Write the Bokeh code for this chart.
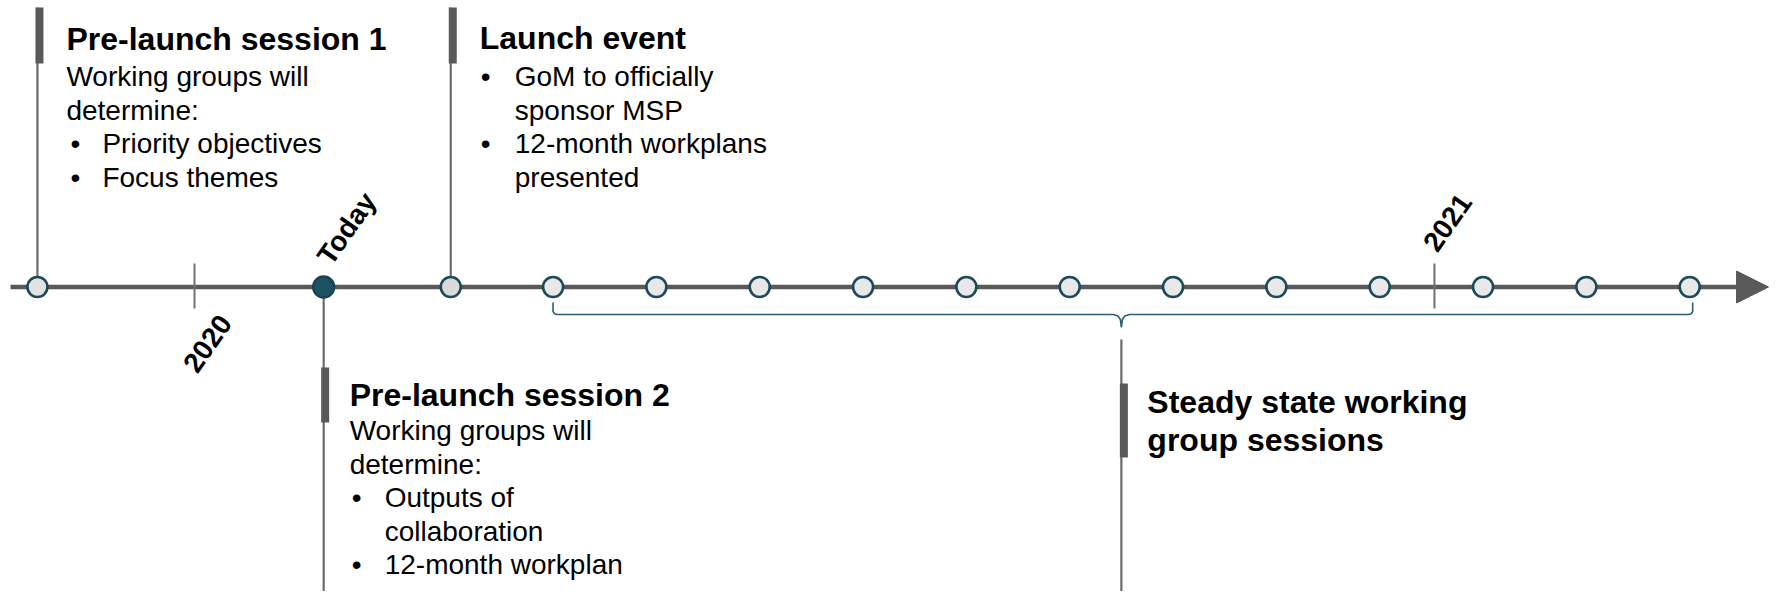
from bokeh.plotting import figure
from bokeh.models import Range1d
from bokeh.embed import file_html
from bokeh.resources import INLINE
from bokeh.core.properties import value

# ---------------- data (months since 1 Jan 2020) ----------------
year_ticks = [0, 12]
year_labels = ["2020", "2021"]
session1_m = -1.52
today_m = 1.25
launch_m = 2.48
steady_m = [3.47, 4.47, 5.47, 6.47, 7.47, 8.47, 9.47, 10.47, 11.47, 12.47, 13.47, 14.47]
today_label = "Today"

session1_title = "Pre-launch session 1"
session1_plain = ["Working groups will", "determine:"]
session1_bullets = [["Priority objectives"], ["Focus themes"]]

launch_title = "Launch event"
launch_plain = []
launch_bullets = [["GoM to officially", "sponsor MSP"], ["12-month workplans", "presented"]]

session2_title = "Pre-launch session 2"
session2_plain = ["Working groups will", "determine:"]
session2_bullets = [["Outputs of", "collaboration"], ["12-month workplan"]]

steady_title = ["Steady state working", "group sessions"]

# ---------------- layout ----------------
W, H = 1769, 591
X0 = 194.0          # figure px of month 0
PPM = 103.33        # px per month
x_start = -X0 / PPM
x_end = (W - X0) / PPM


def px(d):
    return d / PPM


AXIS_Y = 286.5
FONT = value("Liberation Sans")
LINE_C = "#6b6b6b"
BAR_C = "#595959"
TEAL = "#1b4a59"
MID = 0.35  # baseline -> middle of caps, in em

p = figure(width=W, height=H, x_range=Range1d(x_start, x_end),
           y_range=Range1d(H, 0), output_backend="svg",
           toolbar_location=None, min_border=0)
p.axis.visible = False
p.grid.visible = False
p.outline_line_color = None
p.background_fill_color = "white"
p.border_fill_color = "white"

# bracket under steady state sessions
L = steady_m[0]
R = steady_m[-1] + px(3)
M = (steady_m[0] + steady_m[-1]) / 2
bx = [L, L, L + px(1.5), L + px(4), M - px(8), M - px(3.5), M - px(1), M,
      M + px(1), M + px(3.5), M + px(8), R - px(4), R - px(1.5), R, R]
by = [302, 311, 313.3, 314, 314, 315.5, 319, 327, 319, 315.5, 314, 314, 313.3, 311, 302]
p.line(bx, by, line_color="#2a5f6f", line_width=1.6)

# vertical connector lines
p.segment(x0=[session1_m, launch_m], y0=[7, 7], x1=[session1_m, launch_m],
          y1=[AXIS_Y, AXIS_Y], line_color=LINE_C, line_width=2.2)
p.segment(x0=[today_m], y0=[AXIS_Y], x1=[today_m], y1=[600],
          line_color=LINE_C, line_width=2.2)
p.segment(x0=[M], y0=[339], x1=[M], y1=[600], line_color=LINE_C, line_width=2.2)

# accent bars
bar_x = [session1_m + px(2), launch_m + px(2), today_m + px(1.5), M + px(2.5)]
bar_y0 = [7, 7, 367, 383]
bar_y1 = [63, 63, 422, 457]
p.segment(x0=bar_x, y0=bar_y0, x1=bar_x, y1=bar_y1, line_color=BAR_C,
          line_width=8, line_cap="butt")

# main axis + arrow
arrow_base = px(1736 - X0)
arrow_tip = px(1768 - X0)
p.segment(x0=[px(10 - X0)], y0=[AXIS_Y], x1=[arrow_base], y1=[AXIS_Y],
          line_color="#5a5a5a", line_width=4.5)
p.patch([arrow_base, arrow_base, arrow_tip], [270.5, 302.5, AXIS_Y],
        fill_color="#595959", line_color="#595959", line_width=1)

# year ticks
p.segment(x0=year_ticks, y0=[263, 263], x1=year_ticks, y1=[308, 308],
          line_color="#707070", line_width=2)

# circles
p.scatter(x=steady_m, y=[AXIS_Y] * len(steady_m), size=20, marker="circle",
          fill_color="#e8e8e8", line_color=TEAL, line_width=2.6)
p.scatter(x=[session1_m], y=[AXIS_Y], size=20, marker="circle",
          fill_color="#e2e2e2", line_color=TEAL, line_width=2.6)
p.scatter(x=[launch_m], y=[AXIS_Y], size=20, marker="circle",
          fill_color="#d9d9d9", line_color=TEAL, line_width=2.6)
p.scatter(x=[today_m], y=[AXIS_Y], size=21, marker="circle",
          fill_color="#1c5262", line_color="#174553", line_width=2.4)

# rotated labels
ANG = 55
p.text(x=year_ticks, y=[343, 222], text=year_labels, x_offset=13,
       angle=ANG, angle_units="deg", text_align="center", text_baseline="middle",
       text_font=FONT, text_font_style="bold", text_font_size="28px",
       text_color="black")
p.text(x=[today_m], y=[228], text=[today_label], x_offset=23,
       angle=ANG, angle_units="deg", text_align="center", text_baseline="middle",
       text_font=FONT, text_font_style="bold", text_font_size="28px",
       text_color="black")


def block(xm, title_lines, plain, bullets, title_base, body_base,
          title_dx, bullet_dx, btext_dx, title_step=38, step=33.5):
    ty = [title_base + i * title_step - MID * 32 for i in range(len(title_lines))]
    p.text(x=[xm] * len(title_lines), y=ty, text=title_lines, x_offset=title_dx,
           text_align="left", text_baseline="middle", text_font=FONT,
           text_font_style="bold", text_font_size="32px", text_color="black")
    yy = body_base - MID * 28
    xs, ys, ts = [], [], []
    for t in plain:
        xs.append(title_dx); ys.append(yy); ts.append(t); yy += step
    bys = []
    for b in bullets:
        bys.append(yy)
        for t in b:
            xs.append(btext_dx); ys.append(yy); ts.append(t); yy += step
    if ts:
        p.text(x=[xm] * len(ts), y=ys, text=ts, x_offset=xs,
               text_align="left", text_baseline="middle", text_font=FONT,
               text_font_size="28px", text_color="black")
    if bys:
        p.text(x=[xm] * len(bys), y=bys, text=["\u2022"] * len(bys),
               x_offset=bullet_dx, text_align="left", text_baseline="middle",
               text_font=FONT, text_font_size="28px", text_color="black")


block(session1_m, [session1_title], session1_plain, session1_bullets,
      50, 86, 29, 33, 65)
block(launch_m, [launch_title], launch_plain, launch_bullets,
      49, 86, 29, 30, 64)
block(today_m, [session2_title], session2_plain, session2_bullets,
      406, 440, 26, 28, 61)
block(M, steady_title, [], [], 413, 0, 26, 0, 0)

open("out.html", "w").write(file_html(p, INLINE))
